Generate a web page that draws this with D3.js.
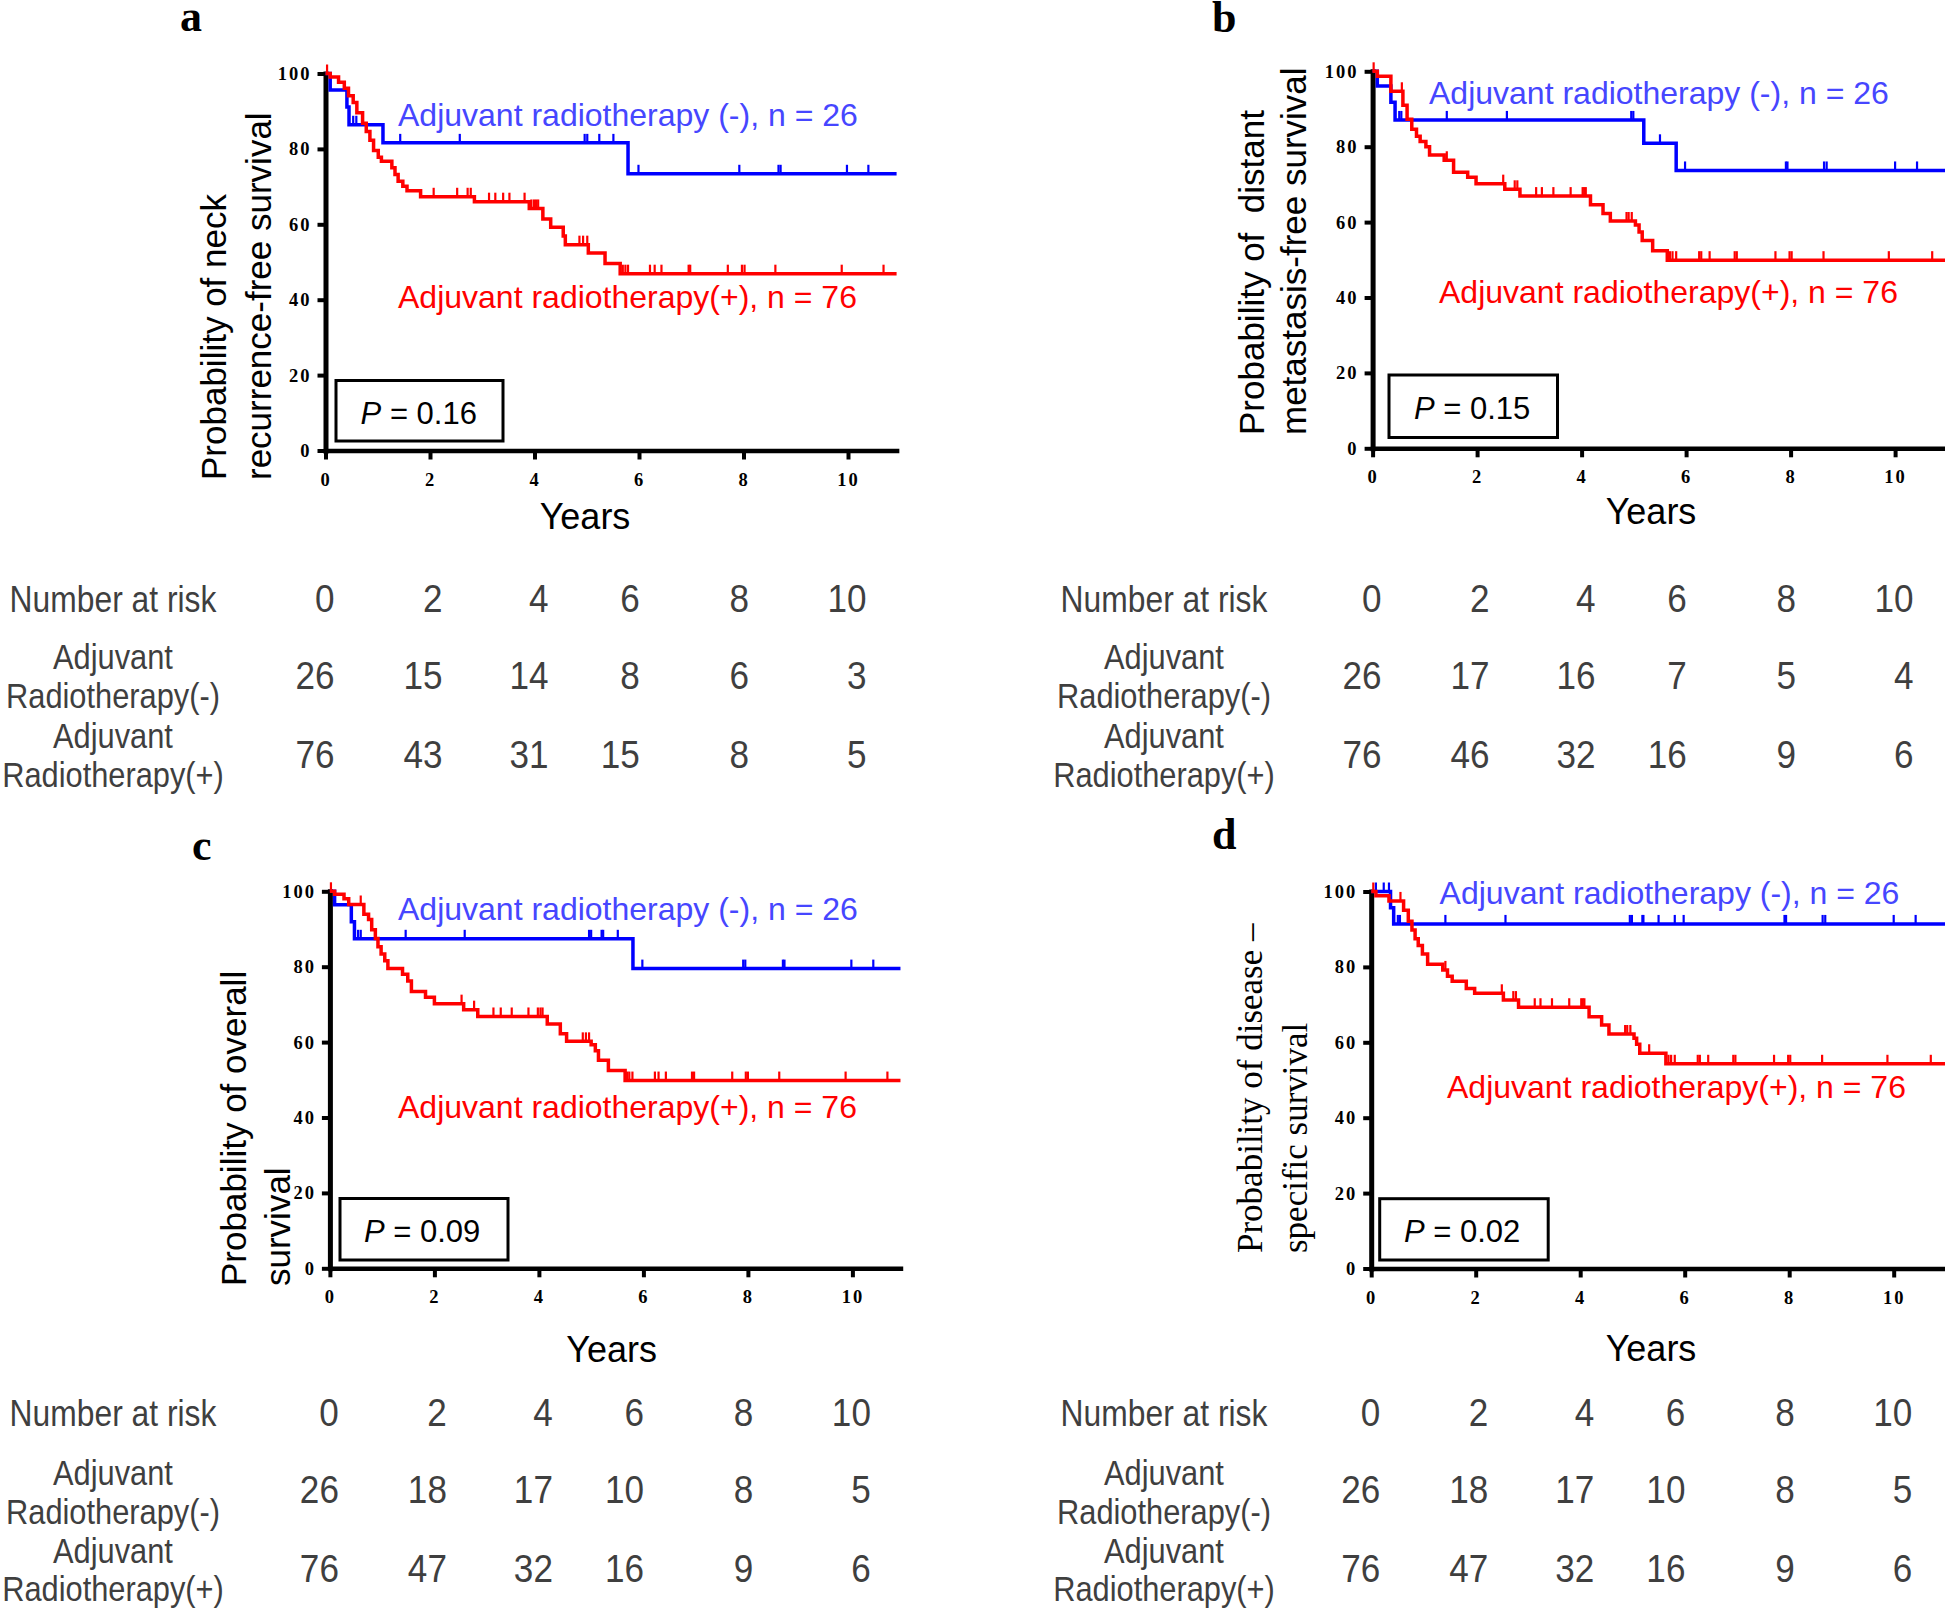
<!DOCTYPE html>
<html><head><meta charset="utf-8">
<script src="https://cdn.jsdelivr.net/npm/d3@7/dist/d3.min.js"></script>
<style>body{margin:0;background:#fff}svg{display:block}</style>
</head><body>
<svg id="fig" width="1945" height="1609"></svg>
<script>
// ---------------- DATA ----------------
const yTicks = [0, 20, 40, 60, 80, 100];
const riskTimes = [0, 2, 4, 6, 8, 10];
const groupNames = ["Adjuvant radiotherapy (-), n = 26", "Adjuvant radiotherapy(+), n = 76"];
const rowLabels = [["Adjuvant", "Radiotherapy(-)"], ["Adjuvant", "Radiotherapy(+)"]];

// Panel a: neck recurrence-free survival  [years, %]
const blueA = [[0,100],[0.09,95.6],[0.41,91.1],[0.45,86.4],[1.10,81.6],[5.79,73.4]];
const blueCensorA = [0.53,0.59,1.43,2.57,4.96,5.01,5.24,5.51,5.99,7.92,8.67,8.71,9.98,10.39];
const redA = [[0,100],[0.09,99.1],[0.25,97.7],[0.36,96.1],[0.44,94.1],[0.53,92.3],[0.60,89.6],[0.71,86.8],[0.78,84.6],[0.85,82.3],[0.92,79.6],[1.01,77.8],[1.07,76.7],[1.27,75.0],[1.33,73.2],[1.39,71.4],[1.48,70.1],[1.56,68.9],[1.82,67.3],[2.85,66.0],[3.90,64.2],[4.16,61.4],[4.31,59.2],[4.55,56.9],[4.59,54.6],[5.03,52.4],[5.35,49.6],[5.64,46.9]];
const redCensorA = [0.03,2.07,2.52,2.72,2.78,3.13,3.25,3.40,3.52,3.81,3.94,3.99,4.03,4.07,4.86,4.93,5.01,5.69,5.74,5.79,6.21,6.30,6.43,6.95,6.98,7.70,7.97,8.02,8.61,9.88,10.68];
const riskNegA = [26,15,14,8,6,3];
const riskPosA = [76,43,31,15,8,5];

// Panel b: distant metastasis-free survival
const blueB = [[0,100],[0.09,96.1],[0.35,91.8],[0.43,87.1],[5.19,80.9],[5.81,73.7]];
const blueCensorB = [0.51,0.55,1.42,2.57,4.95,4.99,5.50,5.98,7.91,7.94,8.64,8.69,10.0,10.42];
const redB = [[0,100],[0.09,98.7],[0.35,94.7],[0.58,91.0],[0.66,87.3],[0.75,84.6],[0.84,82.8],[0.91,81.4],[1.02,80.0],[1.09,77.8],[1.37,76.4],[1.55,73.2],[1.82,71.9],[1.98,70.2],[2.53,68.7],[2.82,66.9],[4.17,64.6],[4.41,62.3],[4.55,60.3],[5.03,59.2],[5.10,57.4],[5.16,55.1],[5.36,52.4],[5.64,49.9]];
const redCensorB = [0.02,0.56,1.42,2.50,2.72,2.77,3.13,3.24,3.46,3.79,4.02,4.05,4.08,4.86,4.90,4.96,5.69,5.74,5.81,6.25,6.29,6.45,6.93,6.97,7.71,7.98,8.02,8.63,9.88,10.71];
const riskNegB = [26,17,16,7,5,4];
const riskPosB = [76,46,32,16,9,6];

// Panel c: overall survival
const blueC = [[0,100],[0.09,96.4],[0.41,91.9],[0.47,87.4],[5.80,79.5]];
const blueCensorC = [0.54,0.59,1.45,2.58,4.96,5.00,5.20,5.23,5.51,5.98,7.91,7.95,8.67,8.70,9.98,10.40];
const redC = [[0,100],[0.09,99.2],[0.27,98.0],[0.36,96.5],[0.65,93.9],[0.74,92.5],[0.80,89.8],[0.87,87.5],[0.92,85.3],[0.98,83.4],[1.05,81.6],[1.11,79.5],[1.39,78.0],[1.49,76.2],[1.56,73.4],[1.83,71.9],[2.00,70.2],[2.56,68.6],[2.83,66.8],[4.16,64.8],[4.41,62.2],[4.53,60.2],[5.00,59.3],[5.08,57.7],[5.14,55.2],[5.33,52.5],[5.65,49.8]];
const redCensorC = [0.02,0.59,2.52,2.76,3.13,3.27,3.48,3.80,3.98,4.03,4.07,4.84,4.90,4.96,5.69,5.73,5.79,6.22,6.29,6.43,6.93,6.97,7.70,7.96,8.00,8.60,9.87,10.67];
const riskNegC = [26,18,17,10,8,5];
const riskPosC = [76,47,32,16,9,6];

// Panel d: disease-specific survival
const blueD = [[0,100],[0.37,95.7],[0.43,91.4]];
const blueCensorD = [0.09,0.24,0.34,0.51,0.55,1.42,2.57,4.95,4.99,5.19,5.21,5.50,5.81,5.98,7.91,7.94,8.64,8.69,10.0,10.42];
const redD = [[0,100],[0.09,98.9],[0.34,97.5],[0.62,95.0],[0.71,92.1],[0.78,89.8],[0.84,87.5],[0.90,85.7],[0.98,83.4],[1.08,80.7],[1.37,79.2],[1.46,77.5],[1.55,76.2],[1.82,74.3],[1.98,73.0],[2.53,71.2],[2.82,69.3],[4.17,66.8],[4.41,64.6],[4.55,62.2],[5.03,61.1],[5.08,59.5],[5.14,57.1],[5.64,54.3]];
const redCensorD = [0.04,0.56,1.42,2.50,2.72,2.77,3.13,3.24,3.46,3.79,4.02,4.05,4.08,4.86,4.90,4.96,5.32,5.69,5.74,5.81,6.25,6.29,6.45,6.93,6.97,7.71,7.98,8.02,8.63,9.88,10.71];
const riskNegD = [26,18,17,10,8,5];
const riskPosD = [76,47,32,16,9,6];

const pValues = ["0.16", "0.15", "0.09", "0.02"];
const yLabels = [
  ["Probability of neck", "recurrence-free survival"],
  ["Probability of  distant", "metastasis-free survival"],
  ["Probability of overall", "survival"],
  ["Probability of disease \u2013", "specific survival"]
];

// ---------------- LAYOUT ----------------
const BLUE = "#0000ff", BLUE_TXT = "#4646ff", RED = "#ff0000", GREY = "#3f3f3f";
const SANS = "'Liberation Sans', Arial, sans-serif";
const SERIF = "'Liberation Serif', 'Times New Roman', serif";
const PX_PER_YEAR = 52.25, PLOT_H = 377;
const colShift = [9, 12.5, 14, 0.7, 5.5, 18.5];

const layouts = [
  {letter:"a", lx:180, ly:31, ox:325.5, oy:450.5, xMax:10.93, ylx:[226,270.5], yly:480, serif:false,
   legN:[398,126], legP:[398,308], box:[336,380.5,167,60.5], pt:[360.6,423.5], years:[585,529],
   tab:{cx:113, head:612, lab:[[669,708],[748,787]], num:[689,768]}},
  {letter:"b", lx:1212, ly:32, ox:1372.6, oy:448.3, xMax:10.99, ylx:[1263.6,1306], yly:435, serif:false,
   legN:[1429,103.5], legP:[1439,303], box:[1389,375,168.5,62.5], pt:[1414,418.5], years:[1651,523.5],
   tab:{cx:1164, head:612, lab:[[669,708],[748,787]], num:[689,768]}},
  {letter:"c", lx:192, ly:860, ox:329.9, oy:1268.3, xMax:10.92, ylx:[246,289.6], yly:1286, serif:false,
   legN:[398,920], legP:[398,1118], box:[340,1198.5,168,61.5], pt:[364,1241.8], years:[611.6,1362],
   tab:{cx:113, head:1426, lab:[[1485,1524],[1563,1601]], num:[1503,1582]}},
  {letter:"d", lx:1212, ly:849, ox:1371.2, oy:1268.5, xMax:10.99, ylx:[1262,1306.6], yly:1253, serif:true,
   legN:[1439.6,903.5], legP:[1447,1097.5], box:[1379.7,1198.7,168.5,61.3], pt:[1404,1241.7], years:[1651,1361],
   tab:{cx:1164, head:1426, lab:[[1485,1524],[1563,1601]], num:[1503,1582]}}
];

const panels = [
  {blue:blueA, blueCensor:blueCensorA, red:redA, redCensor:redCensorA, riskNeg:riskNegA, riskPos:riskPosA},
  {blue:blueB, blueCensor:blueCensorB, red:redB, redCensor:redCensorB, riskNeg:riskNegB, riskPos:riskPosB},
  {blue:blueC, blueCensor:blueCensorC, red:redC, redCensor:redCensorC, riskNeg:riskNegC, riskPos:riskPosC},
  {blue:blueD, blueCensor:blueCensorD, red:redD, redCensor:redCensorD, riskNeg:riskNegD, riskPos:riskPosD}
];

// ---------------- DRAW ----------------
const svg = d3.select("#fig");
svg.append("rect").attr("width",1945).attr("height",1609).attr("fill","#fff");

function stepValue(steps, t) {
  let v = steps[0][1];
  for (const s of steps) { if (s[0] <= t) v = s[1]; }
  return v;
}

panels.forEach((P, i) => {
  const L = layouts[i];
  const g = svg.append("g");
  const x = d3.scaleLinear().domain([0, L.xMax]).range([L.ox, L.ox + PX_PER_YEAR * L.xMax]);
  const y = d3.scaleLinear().domain([0, 100]).range([L.oy, L.oy - PLOT_H]);

  // panel letter
  g.append("text").attr("x", L.lx).attr("y", L.ly).text(L.letter)
    .attr("font-family", SERIF).attr("font-weight", "bold").attr("font-size", 44);

  // axes
  const gy = g.append("g").attr("transform", `translate(${L.ox},0)`)
    .call(d3.axisLeft(y).tickValues(yTicks).tickSize(8).tickSizeOuter(0).tickPadding(6));
  const gx = g.append("g").attr("transform", `translate(0,${L.oy})`)
    .call(d3.axisBottom(x).tickValues(riskTimes).tickSize(9).tickSizeOuter(0).tickPadding(13));
  [gy, gx].forEach(ax => {
    ax.select(".domain").attr("stroke", "#000").attr("stroke-width", 5).attr("stroke-linecap", "square");
    ax.selectAll(".tick line").attr("stroke", "#000").attr("stroke-width", 4);
    ax.selectAll(".tick text").attr("fill", "#000").attr("font-family", SERIF)
      .attr("font-weight", "bold").attr("font-size", 18.5).attr("letter-spacing", "2px");
  });
  gx.select(".domain").attr("stroke-width", 4.5);

  // curves
  const line = d3.line().x(d => x(d[0])).y(d => y(d[1])).curve(d3.curveStepAfter);
  const series = [[P.blue, P.blueCensor, BLUE], [P.red, P.redCensor, RED]];
  series.forEach(([steps, cens, col]) => {
    const full = steps.concat([[L.xMax, steps[steps.length - 1][1]]]);
    g.append("path").datum(full).attr("d", line).attr("fill", "none")
      .attr("stroke", col).attr("stroke-width", 3.5);
    g.selectAll(null).data(cens).enter().append("line")
      .attr("x1", d => x(d)).attr("x2", d => x(d))
      .attr("y1", d => y(stepValue(steps, d)) + 1)
      .attr("y2", d => y(stepValue(steps, d)) - 9)
      .attr("stroke", col).attr("stroke-width", 2.2);
  });

  // legends
  g.append("text").attr("x", L.legN[0]).attr("y", L.legN[1]).text(groupNames[0])
    .attr("font-family", SANS).attr("font-size", 32).attr("fill", BLUE_TXT);
  g.append("text").attr("x", L.legP[0]).attr("y", L.legP[1]).text(groupNames[1])
    .attr("font-family", SANS).attr("font-size", 32).attr("fill", RED);

  // P box
  g.append("rect").attr("x", L.box[0]).attr("y", L.box[1]).attr("width", L.box[2]).attr("height", L.box[3])
    .attr("fill", "none").attr("stroke", "#000").attr("stroke-width", 3);
  const pt = g.append("text").attr("x", L.pt[0]).attr("y", L.pt[1])
    .attr("font-family", SANS).attr("font-size", 31).attr("fill", "#000");
  pt.append("tspan").attr("font-style", "italic").text("P");
  pt.append("tspan").text(" = " + pValues[i]);

  // y label
  yLabels[i].forEach((txt, k) => {
    g.append("text").attr("transform", `translate(${L.ylx[k]},${L.yly}) rotate(-90)`)
      .attr("text-anchor", "start").style("white-space", "pre").text(txt)
      .attr("font-family", L.serif ? SERIF : SANS).attr("font-size", 35).attr("fill", "#000");
  });

  // x label
  g.append("text").attr("x", L.years[0]).attr("y", L.years[1]).attr("text-anchor", "middle")
    .text("Years").attr("font-family", SANS).attr("font-size", 36).attr("fill", "#000");

  // number at risk table
  const T = L.tab;
  const tg = g.append("g").attr("fill", GREY);
  tg.append("text").attr("transform", `translate(${T.cx},${T.head}) scale(0.86,1)`)
    .attr("text-anchor", "middle").attr("font-family", SANS).attr("font-size", 37).text("Number at risk");
  rowLabels.forEach((lines, r) => {
    lines.forEach((txt, k) => {
      tg.append("text").attr("transform", `translate(${T.cx},${T.lab[r][k]}) scale(0.88,1)`)
        .attr("text-anchor", "middle").attr("font-family", SANS).attr("font-size", 35).text(txt);
    });
  });
  const rows = [[riskTimes, T.head], [P.riskNeg, T.num[0]], [P.riskPos, T.num[1]]];
  rows.forEach(([vals, yy]) => {
    vals.forEach((v, c) => {
      tg.append("text").attr("transform", `translate(${x(riskTimes[c]) + colShift[c]},${yy}) scale(0.9,1)`)
        .attr("text-anchor", "end").attr("font-family", SANS).attr("font-size", 39).text(v);
    });
  });
});
</script>
</body></html>
